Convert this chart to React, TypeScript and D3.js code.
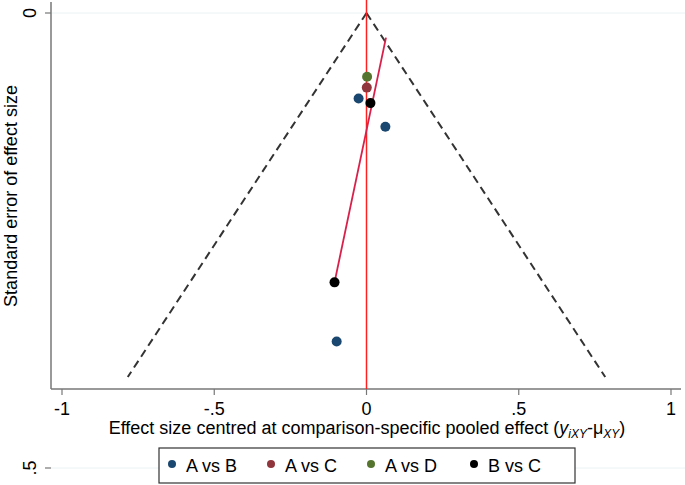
import React from "react";
import * as d3 from "d3";

const seriesNames = ["A vs B", "A vs C", "A vs D", "B vs C"];
const seriesColors = ["#1a476f", "#90353b", "#55752f", "#000000"];
const effAB = [-0.026, 0.062, -0.098];
const seAB = [0.094, 0.125, 0.361];
const effAC = [0.001];
const seAC = [0.082];
const effAD = [0.002];
const seAD = [0.07];
const effBC = [0.013, -0.105];
const seBC = [0.099, 0.296];
const fitEff = [-0.105, 0.064];
const fitSe = [0.296, 0.027];
const funnelSeMax = 0.4;
const xTicks = [-1, -0.5, 0, 0.5, 1];
const xTickLabels = ["-1", "-.5", "0", ".5", "1"];
const yTicks = [0, 0.5];
const yTickLabels = ["0", ".5"];

export default function App() {
  const W = 685, H = 485;
  const x = d3.scaleLinear().domain([-1, 1]).range([62, 671]);
  const y = d3.scaleLinear().domain([0, 0.5]).range([13, 468]);
  const axisY = 389;
  const axisX = 51;
  const font = "'Liberation Sans', Arial, Helvetica, sans-serif";

  const series = [
    { e: effAB, s: seAB },
    { e: effAC, s: seAC },
    { e: effAD, s: seAD },
    { e: effBC, s: seBC },
  ];

  const line = d3.line<[number, number]>().x(d => x(d[0])).y(d => y(d[1]));
  const funnelL: [number, number][] = [[0, 0], [-1.96 * funnelSeMax, funnelSeMax]];
  const funnelR: [number, number][] = [[0, 0], [1.96 * funnelSeMax, funnelSeMax]];
  const fit: [number, number][] = fitEff.map((e, i) => [e, fitSe[i]]);

  const legendX = [172, 271, 371, 474];

  return (
    <svg width={W} height={H} style={{ position: "absolute", left: 0, top: 0 }} fontFamily={font}>
      <rect x={0} y={0} width={W} height={H} fill="#fff" />
      {yTicks.map(t => (
        <line key={"g" + t} x1={axisX} x2={W} y1={y(t)} y2={y(t)} stroke="#eaf2f3" strokeWidth={1} />
      ))}
      {/* axes */}
      <line x1={axisX} x2={axisX} y1={2} y2={axisY} stroke="#777" strokeWidth={1.5} />
      <line x1={axisX} x2={W - 4} y1={axisY} y2={axisY} stroke="#777" strokeWidth={1.5} />
      {xTicks.map((t, i) => (
        <g key={"x" + t}>
          <line x1={x(t)} x2={x(t)} y1={axisY} y2={axisY + 6} stroke="#777" strokeWidth={1.2} />
          <text x={x(t)} y={415} fontSize={18} textAnchor="middle" fill="#000">{xTickLabels[i]}</text>
        </g>
      ))}
      {yTicks.map((t, i) => (
        <g key={"y" + t}>
          <line x1={axisX - 6} x2={axisX} y1={y(t)} y2={y(t)} stroke="#777" strokeWidth={1.2} />
          <text transform={`translate(36,${y(t)}) rotate(-90)`} fontSize={18} textAnchor="middle" fill="#000">{yTickLabels[i]}</text>
        </g>
      ))}
      <text transform={`translate(17,196) rotate(-90)`} fontSize={18} textAnchor="middle" fill="#000">Standard error of effect size</text>
      <text x={367} y={434} fontSize={18} textAnchor="middle" fill="#000">
        Effect size centred at comparison-specific pooled effect (<tspan fontStyle="italic">y</tspan><tspan fontStyle="italic" fontSize={12} dy={4}>iXY</tspan><tspan dy={-4}>-μ</tspan><tspan fontStyle="italic" fontSize={12} dy={4}>XY</tspan><tspan dy={-4}>)</tspan>
      </text>
      {/* funnel */}
      <path d={line(funnelL) || ""} fill="none" stroke="#333" strokeWidth={2} strokeDasharray="8,5" />
      <path d={line(funnelR) || ""} fill="none" stroke="#333" strokeWidth={2} strokeDasharray="8,5" />
      <line x1={x(0)} x2={x(0)} y1={0} y2={axisY} stroke="#ff2020" strokeWidth={1.5} />
      <path d={line(fit) || ""} fill="none" stroke="#d8204a" strokeWidth={1.8} />
      {series.map((s, si) =>
        s.e.map((e, i) => (
          <circle key={si + "-" + i} cx={x(e)} cy={y(s.s[i])} r={5} fill={seriesColors[si]} />
        ))
      )}
      {/* legend */}
      <rect x={159} y={448} width={416} height={35} fill="#fff" stroke="#333" strokeWidth={1.2} />
      {seriesNames.map((n, i) => (
        <g key={n}>
          <circle cx={legendX[i]} cy={464} r={4} fill={seriesColors[i]} />
          <text x={legendX[i] + 14} y={472} fontSize={18} fill="#000">{n}</text>
        </g>
      ))}
    </svg>
  );
}
